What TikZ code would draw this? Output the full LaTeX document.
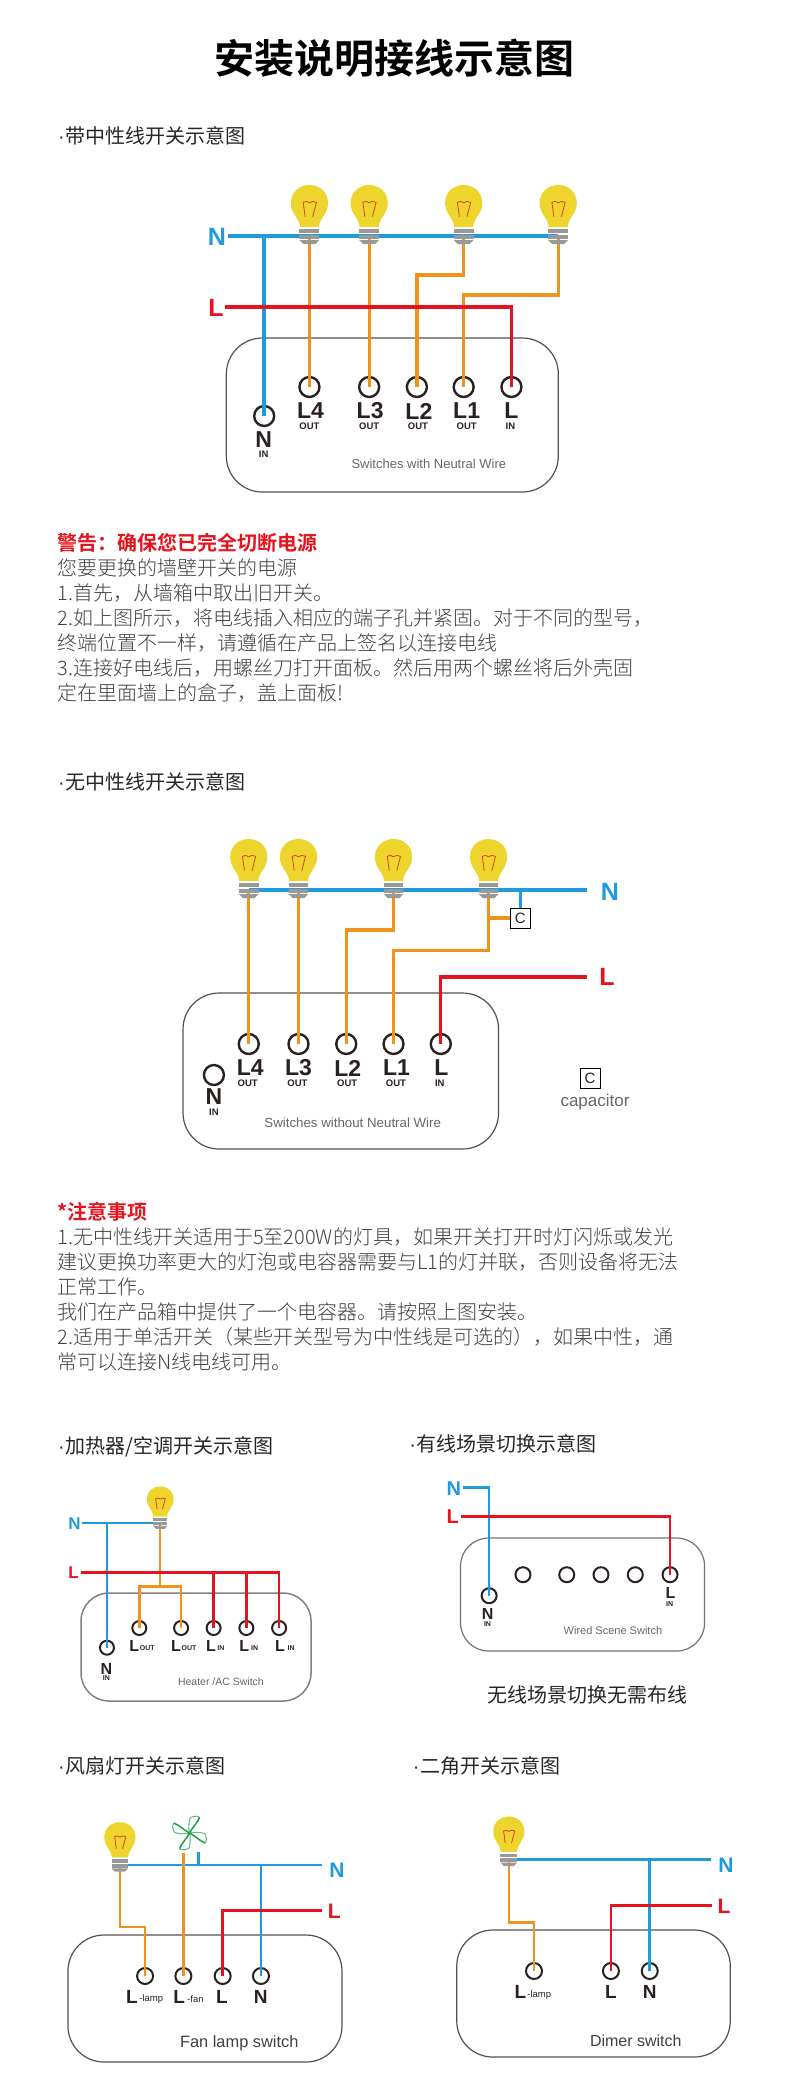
\documentclass[tikz,border=0pt]{standalone}
\usepackage{fontspec}
\setmainfont{Liberation Sans}
\newfontfamily\cjk[BoldFont=Noto Sans CJK SC Bold]{Noto Sans CJK SC}
\newfontfamily\cjklight{Noto Sans CJK SC Light}
\usetikzlibrary{calc}
\definecolor{wblue}{HTML}{1F9BDB}
\definecolor{worange}{HTML}{F0931C}
\definecolor{wred}{HTML}{E5131D}
\definecolor{bulby}{HTML}{EDD52E}
\definecolor{bulbg}{HTML}{999999}
\definecolor{filam}{HTML}{D8441E}
\definecolor{termk}{HTML}{2B2020}
\definecolor{boxk}{HTML}{555050}
\definecolor{fang}{HTML}{1E9E4A}
\definecolor{fanl}{HTML}{5FC084}
\def\hdot{\makebox[8pt]{\rmfamily ·}}
\tikzset{
	bulb/.pic={
		\fill[bulby] (-9.5,-9) .. controls (-10,-18) and (-18.7,-22) .. (-18.7,-33) .. controls (-18.7,-44) and (-10,-51) .. (0,-51) .. controls (10,-51) and (18.7,-44) .. (18.7,-33) .. controls (18.7,-22) and (10,-18) .. (9.5,-9) -- cycle;
		\fill[white] (-10,-8.5) rectangle (10,-6.7);
		\fill[bulbg] (-10,-6.7) rectangle (10,-2.7);
		\fill[bulbg] (-10,-1.2) rectangle (10,3.2);
		\fill[bulbg] (-10,4) -- (10,4) -- (6,8) -- (-6,8) -- cycle;
		\draw[filam,line width=0.8pt] (-4.3,-19.3) -- (-6.3,-33.7) -- (-3,-34.6) -- (0,-33.2) -- (3,-34.6) -- (7,-33.7) -- (3.3,-19.3);
	},
	fanwheel/.pic={
		\foreach \a in {0,90,180,270} {
			\draw[fanl,line width=1.1pt,rotate=\a] (10,-15.7) .. controls (8,-17.5) and (3,-17) .. (0.5,-15) .. controls (-1,-10) and (-1,-4) .. (0,0);
			\draw[fang,line width=1.5pt,rotate=\a] (0,0) .. controls (3,-6) and (8,-10) .. (10,-15.7);
		}
	},
	term/.style={circle,draw=termk,line width=2.4pt,minimum size=20pt,inner sep=0pt,outer sep=0pt},
	termm/.style={term,line width=2pt,minimum size=16pt},
	terms/.style={term,line width=2pt,minimum size=14pt},
	swbox/.style={draw=boxk,line width=1.2pt,rounded corners=36pt,inner sep=0pt},
	capbox/.style={draw=black,line width=0.8pt,minimum size=20pt,inner sep=0pt,font=\fontsize{15}{15}\selectfont,text=termk},
	wireN/.style={draw=wblue,line width=3.4pt},
	wireL/.style={draw=wred,line width=3.4pt},
	wireO/.style={draw=worange,line width=3.2pt},
	wireNs/.style={draw=wblue,line width=2.6pt},
	wireLs/.style={draw=wred,line width=2.6pt},
	wireOs/.style={draw=worange,line width=2.6pt},
	mainN/.style={text=wblue,inner sep=0pt,font=\bfseries\fontsize{25}{25}\selectfont},
	mainL/.style={text=wred,inner sep=0pt,font=\bfseries\fontsize{25}{25}\selectfont},
	midN/.style={mainN,font=\bfseries\fontsize{21}{21}\selectfont},
	midL/.style={mainL,font=\bfseries\fontsize{21}{21}\selectfont},
	smallN/.style={mainN,font=\bfseries\fontsize{17}{17}\selectfont},
	smallL/.style={mainL,font=\bfseries\fontsize{17}{17}\selectfont},
	tlab/.style={text=termk,inner sep=0pt,font=\bfseries\fontsize{23}{23}\selectfont},
	tsub/.style={text=termk,inner sep=0pt,font=\bfseries\fontsize{9.5}{10}\selectfont},
	mlab/.style={tlab,font=\bfseries\fontsize{19}{19}\selectfont},
	msub/.style={text=termk,inner sep=0pt,font=\fontsize{9.5}{10}\selectfont},
	slab/.style={tlab,font=\bfseries\fontsize{16}{16}\selectfont},
	ssub/.style={tsub,font=\bfseries\fontsize{7}{8}\selectfont},
	boxname/.style={text=black!60,inner sep=0pt,font=\fontsize{13}{13}\selectfont},
	heading/.style={anchor=west,inner sep=0pt,text=black!85,font=\cjk\fontsize{20}{20}\selectfont,text height=17.6pt,text depth=2.4pt},
	warn/.style={heading,text=wred,font=\cjk\bfseries\fontsize{20}{20}\selectfont},
	body/.style={heading,text=black!75,font=\cjklight\fontsize{20}{20}\selectfont},
}
\begin{document}
\begin{tikzpicture}[x=0.995pt,y=-1pt]
			\useasboundingbox (0,0) rectangle (793.97,2081);
			\node[inner sep=0pt,font=\cjk\bfseries\fontsize{40}{40}\selectfont] (title) at (396,58) {安装说明接线示意图};
			
			%%%%% WITH NEUTRAL %%%%%
			\node[heading] (headA) at (57.5,136) {\hdot 带中性线开关示意图};
			\node[swbox,minimum width=332pt,minimum height=154pt] (boxA) at (394.3,415) {};
			\coordinate (bulbAa) at (311,236);
			\coordinate (bulbAb) at (371,236);
			\coordinate (bulbAc) at (466,236);
			\coordinate (bulbAd) at (561,236);
			\node[term] (tAn) at (265.5,416) {};
			\node[term] (tAd) at (311,387) {};
			\node[term] (tAc) at (371,387) {};
			\node[term] (tAb) at (419,387) {};
			\node[term] (tAa) at (466,387) {};
			\node[term] (tAl) at (514,387) {};
			\node[mainN] (nA) at (218,237) {N};
			\node[mainL] (lA) at (217,308) {L};
			\coordinate (nAs) at (229,236);
			\coordinate (lAs) at (226,307);
			\draw[wireN] (nAs) -- (bulbAd);
			\draw[wireN] (nAs -| tAn) -- (tAn.center);
			\draw[wireO] (bulbAa) -- (tAd.center);
			\draw[wireO] (bulbAb) -- (tAc.center);
			\draw[wireO] (bulbAc) -- ++(0,39) -| (tAb.center);
			\draw[wireO] (bulbAd) -- ++(0,59) -| (tAa.center);
			\draw[wireL] (lAs) -| (tAl.center);
			\foreach \b in {bulbAa,bulbAb,bulbAc,bulbAd} {
				\pic at (\b) {bulb};
			}
			\node[tlab] (lbAd) at (312,411) {L4};
			\node[tlab] (lbAc) at (372,411) {L3};
			\node[tlab] (lbAb) at (421,411) {L2};
			\node[tlab] (lbAa) at (469,411) {L1};
			\node[tlab] (lbAl) at (514,411) {L};
			\node[tsub] (sbAd) at (311,426) {OUT};
			\node[tsub] (sbAc) at (371,426) {OUT};
			\node[tsub] (sbAb) at (420,426) {OUT};
			\node[tsub] (sbAa) at (469,426) {OUT};
			\node[tsub] (sbAl) at (513,426) {IN};
			\node[tlab] (lbAn) at (265,440) {N};
			\node[tsub] (sbAn) at (265,454) {IN};
			\node[boxname] (nameA) at (431,464) {Switches with Neutral Wire};
			
			%%%%% TEXT ONE %%%%%
			\node[warn] (warnA) at (57.5,543) {警告：确保您已完全切断电源};
			\node[body] (txtAa) at (57.5,568) {您要更换的墙壁开关的电源};
			\node[body] (txtAb) at (57.5,593) {1.首先，从墙箱中取出旧开关。};
			\node[body] (txtAc) at (57.5,618) {2.如上图所示，将电线插入相应的端子孔并紧固。对于不同的型号，};
			\node[body] (txtAd) at (57.5,643) {终端位置不一样，请遵循在产品上签名以连接电线};
			\node[body] (txtAe) at (57.5,668) {3.连接好电线后，用螺丝刀打开面板。然后用两个螺丝将后外壳固};
			\node[body] (txtAf) at (57.5,693) {定在里面墙上的盒子，盖上面板!};
			
			%%%%% WITHOUT NEUTRAL %%%%%
			\node[heading] (headB) at (57.5,782) {\hdot 无中性线开关示意图};
			\node[swbox,minimum width=315.5pt,minimum height=156pt] (boxB) at (342.5,1071) {};
			\coordinate (bulbBa) at (250,890);
			\coordinate (bulbBb) at (300,890);
			\coordinate (bulbBc) at (395.5,890);
			\coordinate (bulbBd) at (491,890);
			\node[term] (tBd) at (250,1044) {};
			\node[term] (tBc) at (300,1044) {};
			\node[term] (tBb) at (348,1044) {};
			\node[term] (tBa) at (395.5,1044) {};
			\node[term] (tBl) at (443,1044) {};
			\node[term] (tBn) at (215,1075) {};
			\node[capbox] (capB) at (523,918) {C};
			\node[mainN] (nB) at (613,892) {N};
			\node[mainL] (lB) at (610,977) {L};
			\coordinate (nBs) at (590,890);
			\coordinate (lBs) at (590,977);
			\draw[wireN] (nBs) -- (bulbBa);
			\draw[wireNs] (capB.north |- nBs) -- (capB.north);
			\draw[wireO] (bulbBa) -- (tBd.center);
			\draw[wireO] (bulbBb) -- (tBc.center);
			\draw[wireO] (bulbBc) -- ++(0,40) -| (tBb.center);
			\draw[wireO] (bulbBd) -- ++(0,60.7) -| (tBa.center);
			\draw[wireO] (capB.west -| bulbBd) -- (capB.west);
			\draw[wireL] (lBs) -| (tBl.center);
			\foreach \b in {bulbBa,bulbBb,bulbBc,bulbBd} {
				\pic at (\b) {bulb};
			}
			\node[tlab] (lbBd) at (251.6,1068) {L4};
			\node[tlab] (lbBc) at (300,1068) {L3};
			\node[tlab] (lbBb) at (349.5,1068) {L2};
			\node[tlab] (lbBa) at (398.5,1068) {L1};
			\node[tlab] (lbBl) at (443.5,1068) {L};
			\node[tsub] (sbBd) at (249,1083) {OUT};
			\node[tsub] (sbBc) at (299,1083) {OUT};
			\node[tsub] (sbBb) at (349,1083) {OUT};
			\node[tsub] (sbBa) at (398,1083) {OUT};
			\node[tsub] (sbBl) at (442,1083) {IN};
			\node[tlab] (lbBn) at (215,1097) {N};
			\node[tsub] (sbBn) at (215,1112) {IN};
			\node[boxname,font=\fontsize{13.3}{13.3}\selectfont] (nameB) at (354.5,1123) {Switches without Neutral Wire};
			\node[capbox] (capLeg) at (593,1078) {C};
			\node[boxname,font=\fontsize{17}{17}\selectfont] (capName) at (598,1102) {capacitor};
			
			%%%%% TEXT TWO %%%%%
			\node[warn] (warnB) at (57.5,1212) {*注意事项};
			\node[body] (txtBa) at (57.5,1237) {1.无中性线开关适用于5至200W的灯具，如果开关打开时灯闪烁或发光};
			\node[body] (txtBb) at (57.5,1262) {建议更换功率更大的灯泡或电容器需要与L1的灯并联，否则设备将无法};
			\node[body] (txtBc) at (57.5,1287) {正常工作。};
			\node[body] (txtBd) at (57.5,1312) {我们在产品箱中提供了一个电容器。请按照上图安装。};
			\node[body] (txtBe) at (57.5,1337) {2.适用于单活开关（某些开关型号为中性线是可选的），如果中性，通};
			\node[body] (txtBf) at (57.5,1362) {常可以连接N线电线可用。};
			
			%%%%% HEATER %%%%%
			\node[heading] (headC) at (57.5,1446) {\hdot 加热器/空调开关示意图};
			\node[swbox,line width=1.5pt,draw=black!50,rounded corners=28pt,minimum width=230pt,minimum height=108pt] (boxC) at (197,1647) {};
			\coordinate (bulbC) at (161,1523);
			\coordinate (splitC) at (161,1586.7);
			\node[terms] (tCn) at (107.5,1647.7) {};
			\node[terms] (tCa) at (140,1628) {};
			\node[terms] (tCb) at (182,1628) {};
			\node[terms] (tCc) at (214.7,1628) {};
			\node[terms] (tCd) at (247.6,1628) {};
			\node[terms] (tCe) at (280.5,1628) {};
			\node[smallN] (nC) at (75,1524) {N};
			\node[smallL] (lC) at (74,1573) {L};
			\coordinate (nCs) at (82.5,1523);
			\coordinate (lCs) at (81,1572.7);
			\draw[wireNs] (nCs) -- (bulbC);
			\draw[wireNs] (nCs -| tCn) -- (tCn.center);
			\draw[wireOs] (bulbC) -- (splitC);
			\draw[wireOs] (tCa.center) |- (splitC) -| (tCb.center);
			\draw[wireLs] (lCs) -| (tCe.center);
			\draw[wireLs] (lCs -| tCc) -- (tCc.center);
			\draw[wireLs] (lCs -| tCd) -- (tCd.center);
			\pic[scale=0.72] at (bulbC) {bulb};
			\node[slab] (lbCa) at (135,1645.7) {L};
			\node[ssub] (sbCa) at (148,1648) {OUT};
			\node[slab] (lbCb) at (177,1645.7) {L};
			\node[ssub] (sbCb) at (190,1648) {OUT};
			\node[slab] (lbCc) at (212,1645.7) {L};
			\node[ssub] (sbCc) at (222,1648) {IN};
			\node[slab] (lbCd) at (245.5,1645.7) {L};
			\node[ssub] (sbCd) at (256,1648) {IN};
			\node[slab] (lbCe) at (281.5,1645.7) {L};
			\node[ssub] (sbCe) at (292.7,1648) {IN};
			\node[slab] (lbCn) at (107,1669) {N};
			\node[ssub] (sbCn) at (107,1678) {IN};
			\node[boxname,font=\fontsize{10.5}{10.5}\selectfont] (nameC) at (222,1681.7) {Heater /AC Switch};
			
			%%%%% WIRED SCENE %%%%%
			\node[heading] (headD) at (410.5,1444) {\hdot 有线场景切换示意图};
			\node[swbox,line width=1.2pt,draw=black!55,rounded corners=28pt,minimum width=244pt,minimum height=113pt] (boxD) at (585.5,1594.5) {};
			\node[terms,minimum size=15pt] (tDn) at (491.6,1595.7) {};
			\node[terms,minimum size=15pt] (tDa) at (525.6,1574.7) {};
			\node[terms,minimum size=15pt] (tDb) at (569.6,1574.7) {};
			\node[terms,minimum size=15pt] (tDc) at (604,1574.7) {};
			\node[terms,minimum size=15pt] (tDd) at (638.5,1574.7) {};
			\node[terms,minimum size=15pt] (tDl) at (673.4,1574.7) {};
			\node[smallN,font=\bfseries\fontsize{20}{20}\selectfont] (nD) at (456,1488.7) {N};
			\node[smallL,font=\bfseries\fontsize{20}{20}\selectfont] (lD) at (455,1517) {L};
			\coordinate (nDs) at (465,1487.7);
			\coordinate (lDs) at (463,1516.7);
			\draw[wireNs] (nDs) -| (tDn.center);
			\draw[wireLs] (lDs) -| (tDl.center);
			\node[slab] (lbDl) at (674,1592.7) {L};
			\node[ssub] (sbDl) at (673,1603.7) {IN};
			\node[slab] (lbDn) at (490,1614) {N};
			\node[ssub] (sbDn) at (490,1624) {IN};
			\node[boxname,font=\fontsize{11}{11}\selectfont] (nameD) at (616,1631) {Wired Scene Switch};
			\node[heading,anchor=center] (noteD) at (590,1695) {无线场景切换无需布线};
			
			%%%%% FAN LAMP %%%%%
			\node[heading] (headE) at (57.5,1766) {\hdot 风扇灯开关示意图};
			\node[swbox,minimum width=274pt,minimum height=127pt] (boxE) at (206,1998.5) {};
			\coordinate (bulbE) at (120.5,1865);
			\coordinate (fanE) at (184.3,1853);
			\coordinate (stubE) at (199.5,1852);
			\node[termm] (tEa) at (145.8,1976) {};
			\node[termm] (tEb) at (184.3,1976) {};
			\node[termm] (tEc) at (223.8,1976) {};
			\node[termm] (tEd) at (262.3,1976) {};
			\node[midN] (nE) at (338.7,1870.7) {N};
			\node[midL] (lE) at (336,1911) {L};
			\coordinate (nEs) at (324,1865);
			\coordinate (lEs) at (324,1910.7);
			\draw[wireNs] (nEs) -- (bulbE);
			\draw[wireNs] (stubE) -- (stubE |- nEs);
			\draw[wireNs] (tEd.center |- nEs) -- (tEd.center);
			\draw[wireOs] (bulbE) -- ++(0,62) -| (tEa.center);
			\draw[wireOs] (fanE) -- (tEb.center);
			\draw[wireLs] (lEs) -| (tEc.center);
			\pic[scale=0.84] at (bulbE) {bulb};
			\pic at (190.5,1833) {fanwheel};
			\node[mlab] (lbEa) at (132.7,1996.7) {L};
			\node[msub] (sbEa) at (152,1999) {-lamp};
			\node[mlab] (lbEb) at (180,1996.7) {L};
			\node[msub] (sbEb) at (196.5,1999) {-fan};
			\node[mlab] (lbEc) at (223,1996.7) {L};
			\node[mlab] (lbEd) at (262,1996.7) {N};
			\node[boxname,text=black!75,font=\fontsize{16.4}{16.4}\selectfont] (nameE) at (240.5,2043.7) {Fan lamp switch};
			
			%%%%% DIMMER %%%%%
			\node[heading] (headF) at (414,1766) {\hdot 二角开关示意图};
			\node[swbox,minimum width=273.5pt,minimum height=127pt] (boxF) at (596.5,1993.5) {};
			\coordinate (bulbF) at (511.4,1859.3);
			\node[termm] (tFa) at (536.7,1971) {};
			\node[termm] (tFb) at (614,1971) {};
			\node[termm] (tFc) at (653,1971) {};
			\node[midN] (nF) at (729.6,1865.7) {N};
			\node[midL] (lF) at (727.6,1906) {L};
			\coordinate (nFs) at (715,1859.3);
			\coordinate (lFs) at (716,1905.3);
			\draw[wireNs] (nFs) -- (bulbF);
			\draw[wireNs] (tFc.center |- nFs) -- (tFc.center);
			\draw[wireOs] (bulbF) -- ++(0,63) -| (tFa.center);
			\draw[wireLs] (lFs) -| (tFb.center);
			\pic[scale=0.84] at (bulbF) {bulb};
			\node[mlab] (lbFa) at (523,1991.7) {L};
			\node[msub] (sbFa) at (542,1995) {-lamp};
			\node[mlab] (lbFb) at (614,1991.7) {L};
			\node[mlab] (lbFc) at (653,1991.7) {N};
			\node[boxname,text=black!75,font=\fontsize{16}{16}\selectfont] (nameF) at (639,2040.7) {Dimer switch};
		\end{tikzpicture}
\end{document}
